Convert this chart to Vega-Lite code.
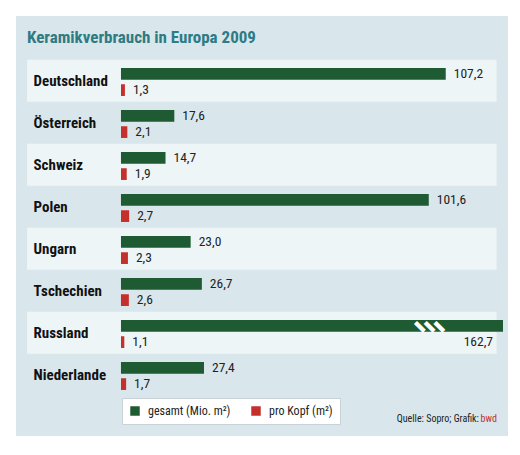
{
  "$schema": "https://vega.github.io/schema/vega-lite/v6.json",
  "width": 520,
  "height": 455,
  "autosize": {"type": "fit", "contains": "padding"},
  "padding": {"left": 16, "top": 16, "right": 12, "bottom": 19},
  "background": "#ffffff",
  "title": {
    "text": "Keramikverbrauch in Europa 2009",
    "anchor": "start",
    "frame": "group",
    "orient": "top",
    "offset": -31,
    "dx": 11,
    "font": "Roboto Condensed, Roboto, sans-serif",
    "fontSize": 17,
    "fontWeight": "bold",
    "color": "#2e7b84"
  },
  "data": {
    "values": [
      {"country": "Deutschland", "measure": "gesamt (Mio. m²)", "value": 107.2},
      {"country": "Deutschland", "measure": "pro Kopf (m²)", "value": 1.3},
      {"country": "Österreich", "measure": "gesamt (Mio. m²)", "value": 17.6},
      {"country": "Österreich", "measure": "pro Kopf (m²)", "value": 2.1},
      {"country": "Schweiz", "measure": "gesamt (Mio. m²)", "value": 14.7},
      {"country": "Schweiz", "measure": "pro Kopf (m²)", "value": 1.9},
      {"country": "Polen", "measure": "gesamt (Mio. m²)", "value": 101.6},
      {"country": "Polen", "measure": "pro Kopf (m²)", "value": 2.7},
      {"country": "Ungarn", "measure": "gesamt (Mio. m²)", "value": 23.0},
      {"country": "Ungarn", "measure": "pro Kopf (m²)", "value": 2.3},
      {"country": "Tschechien", "measure": "gesamt (Mio. m²)", "value": 26.7},
      {"country": "Tschechien", "measure": "pro Kopf (m²)", "value": 2.6},
      {"country": "Russland", "measure": "gesamt (Mio. m²)", "value": 162.7},
      {"country": "Russland", "measure": "pro Kopf (m²)", "value": 1.1},
      {"country": "Niederlande", "measure": "gesamt (Mio. m²)", "value": 27.4},
      {"country": "Niederlande", "measure": "pro Kopf (m²)", "value": 1.7}
    ]
  },
  "encoding": {
    "y": {
      "field": "country",
      "type": "nominal",
      "scale": {
        "domain": ["Deutschland", "Österreich", "Schweiz", "Polen", "Ungarn", "Tschechien", "Russland", "Niederlande"],
        "paddingInner": 0,
        "paddingOuter": 1.091,
        "align": 0.522
      },
      "axis": {
        "title": null,
        "domain": false,
        "ticks": false,
        "grid": false,
        "labelAlign": "left",
        "labelPadding": -17,
        "labelFont": "Roboto Condensed, Roboto, sans-serif",
        "labelFontSize": 15,
        "labelFontWeight": "bold",
        "labelColor": "#111111"
      }
    },
    "x": {
      "field": "value",
      "type": "quantitative",
      "scale": {"domain": [-34.65, 126.1], "range": [0, {"expr": "width - 5"}], "clamp": true, "nice": false, "zero": false},
      "axis": null
    }
  },
  "layer": [
    {
      "transform": [
        {"filter": "datum.measure == 'gesamt (Mio. m²)'"},
        {"window": [{"op": "row_number", "as": "idx"}]},
        {"filter": "datum.idx % 2 == 1"}
      ],
      "mark": {"type": "rect", "color": "#eef5f7"},
      "encoding": {
        "x": {"datum": -31},
        "x2": {"datum": 124}
      }
    },
    {
      "mark": {"type": "bar"},
      "encoding": {
        "x2": {"datum": 0},
        "yOffset": {
          "field": "measure",
          "scale": {"domain": ["gesamt (Mio. m²)", "pro Kopf (m²)"], "paddingInner": 0.28, "paddingOuter": 0.43, "align": 0.58}
        },
        "color": {
          "field": "measure",
          "type": "nominal",
          "scale": {"domain": ["gesamt (Mio. m²)", "pro Kopf (m²)"], "range": ["#1e5a32", "#c4302b"]},
          "legend": {
            "title": null,
            "orient": "none",
            "legendX": 106,
            "legendY": 382,
            "direction": "horizontal",
            "fillColor": "#ffffff",
            "strokeColor": "#c9d3d7",
            "padding": 7,
            "symbolType": "square",
            "symbolSize": 90,
            "symbolStrokeWidth": 0,
            "columnPadding": 19,
            "labelOffset": 7,
            "labelFont": "Roboto Condensed, Roboto, sans-serif",
            "labelFontSize": 12,
            "labelColor": "#222222"
          }
        }
      }
    },
    {
      "transform": [{"filter": "datum.value < 126"}],
      "mark": {"type": "text", "align": "left", "baseline": "middle", "dx": 8, "font": "Roboto Condensed, Roboto, sans-serif", "fontSize": 13.5, "color": "#222222"},
      "encoding": {
        "yOffset": {"field": "measure"},
        "text": {"field": "value", "type": "quantitative", "format": ".1f"}
      }
    },
    {
      "transform": [{"filter": "datum.value >= 126"}],
      "mark": {"type": "text", "align": "right", "baseline": "middle", "dx": -10, "font": "Roboto Condensed, Roboto, sans-serif", "fontSize": 13.5, "color": "#222222"},
      "encoding": {
        "yOffset": {"datum": "pro Kopf (m²)"},
        "text": {"field": "value", "type": "quantitative", "format": ".1f"}
      }
    },
    {
      "transform": [{"filter": "datum.value >= 126"}],
      "mark": {"type": "text", "align": "center", "baseline": "middle", "font": "DejaVu Sans", "fontSize": 10.5, "angle": -45, "color": "#ffffff", "text": "▌"},
      "encoding": {
        "x": {"datum": 99.3},
        "yOffset": {"datum": "gesamt (Mio. m²)"}
      }
    },
    {
      "transform": [{"filter": "datum.value >= 126"}],
      "mark": {"type": "text", "align": "center", "baseline": "middle", "font": "DejaVu Sans", "fontSize": 10.5, "angle": -45, "color": "#ffffff", "text": "▌"},
      "encoding": {
        "x": {"datum": 102.5},
        "yOffset": {"datum": "gesamt (Mio. m²)"}
      }
    },
    {
      "transform": [{"filter": "datum.value >= 126"}],
      "mark": {"type": "text", "align": "center", "baseline": "middle", "font": "DejaVu Sans", "fontSize": 10.5, "angle": -45, "color": "#ffffff", "text": "▌"},
      "encoding": {
        "x": {"datum": 105.7},
        "yOffset": {"datum": "gesamt (Mio. m²)"}
      }
    },
    {
      "transform": [{"filter": "datum.value >= 126"}],
      "mark": {"type": "text", "align": "right", "baseline": "middle", "dx": -18, "dy": 86, "font": "Roboto Condensed, Roboto, sans-serif", "fontSize": 10, "color": "#222222", "text": "Quelle: Sopro; Grafik:"},
      "encoding": {
        "x": {"datum": 124.1}
      }
    },
    {
      "transform": [{"filter": "datum.value >= 126"}],
      "mark": {"type": "text", "align": "right", "baseline": "middle", "dy": 86, "font": "Roboto Condensed, Roboto, sans-serif", "fontSize": 10, "color": "#c4302b", "text": "bwd"},
      "encoding": {
        "x": {"datum": 124.1}
      }
    }
  ],
  "config": {
    "view": {"fill": "#d9e6eb", "stroke": null},
    "locale": {"number": {"decimal": ",", "thousands": ".", "grouping": [3], "currency": ["", " €"]}}
  }
}
